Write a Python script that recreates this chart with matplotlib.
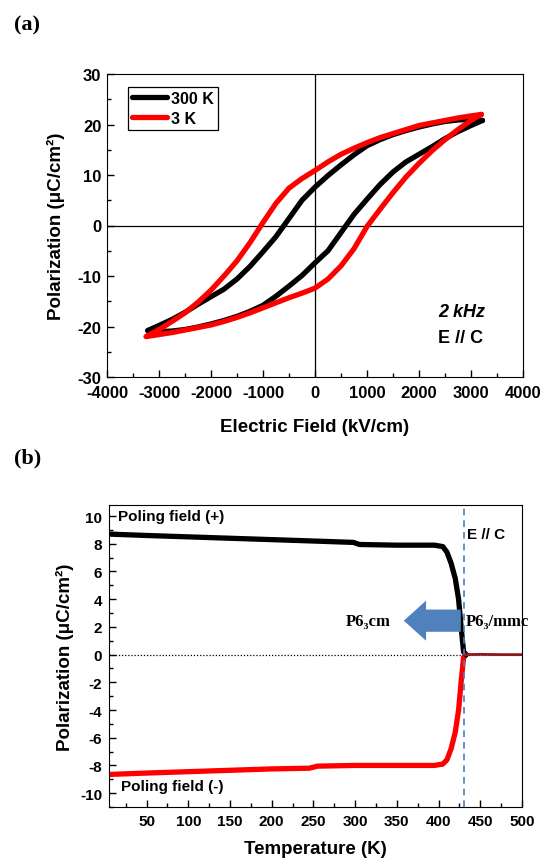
import matplotlib
matplotlib.use("Agg")
import matplotlib.pyplot as plt
from matplotlib.ticker import MultipleLocator

W, H = 542, 862

# (a) hysteresis loops, E in kV/cm, P in uC/cm2 (upper branch: field sweeping down)
black_upper_E = [3220, 3000, 2750, 2500, 2250, 2000, 1750, 1500, 1250, 1000, 750, 500, 250, 0,
                 -250, -500, -750, -1000, -1250, -1500, -1750, -2000, -2250, -2500, -2750, -3000, -3220]
black_upper_P = [20.8, 21.0, 20.9, 20.6, 20.1, 19.5, 18.8, 18.0, 17.0, 15.8, 14.0, 12.0, 9.9, 7.6,
                 5.0, 1.4, -2.2, -5.2, -8.1, -10.6, -12.6, -14.1, -15.6, -17.2, -18.6, -19.8, -20.8]
black_lower_E = [-3220, -3000, -2750, -2500, -2250, -2000, -1750, -1500, -1250, -1000, -750, -500, -250, 0,
                 250, 500, 750, 1000, 1250, 1500, 1750, 2000, 2250, 2500, 2750, 3000, 3220]
black_lower_P = [-20.8, -21.0, -20.9, -20.6, -20.1, -19.5, -18.8, -18.0, -17.0, -15.8, -14.0, -12.0, -9.9, -7.4,
                 -5.0, -1.4, 2.2, 5.2, 8.1, 10.6, 12.6, 14.1, 15.6, 17.2, 18.6, 19.8, 20.8]

red_upper_E = [3200, 3000, 2750, 2500, 2250, 2000, 1750, 1500, 1250, 1000, 750, 500, 250, 0,
               -250, -500, -750, -1000, -1250, -1500, -1750, -2000, -2250, -2500, -2750, -3000, -3250]
red_upper_P = [22.0, 21.7, 21.3, 20.8, 20.3, 19.8, 19.0, 18.2, 17.4, 16.4, 15.3, 14.1, 12.6, 10.9,
               9.3, 7.4, 4.4, 0.6, -3.4, -7.0, -10.0, -12.8, -15.2, -17.3, -19.0, -20.6, -22.0]
red_lower_E = [-3250, -3000, -2750, -2500, -2250, -2000, -1750, -1500, -1250, -1000, -750, -500, -250, 0,
               250, 500, 750, 1000, 1250, 1500, 1750, 2000, 2250, 2500, 2750, 3000, 3200]
red_lower_P = [-22.0, -21.6, -21.2, -20.7, -20.2, -19.7, -19.0, -18.2, -17.3, -16.3, -15.3, -14.3, -13.4, -12.4,
               -10.6, -8.0, -4.6, -0.2, 3.2, 6.5, 9.6, 12.3, 14.8, 17.0, 19.0, 20.8, 22.0]

# (b) polarization vs temperature
temp_pos = [5, 50, 100, 150, 200, 250, 298, 305, 350, 395, 405, 410, 415, 420, 424, 427, 430, 433]
pol_pos = [8.7, 8.6, 8.5, 8.4, 8.3, 8.2, 8.1, 7.95, 7.9, 7.9, 7.8, 7.4, 6.6, 5.5, 4.0, 2.0, 0.2, 0.0]
temp_neg = [5, 50, 100, 150, 200, 245, 255, 300, 350, 395, 405, 410, 415, 420, 424, 427, 430, 433]
pol_neg = [-8.65, -8.55, -8.45, -8.35, -8.25, -8.2, -8.05, -8.0, -8.0, -8.0, -7.9, -7.6, -6.8, -5.6, -4.0, -2.0, -0.2, 0.0]
temp_para = [433, 450, 475, 500]
pol_para = [0.0, 0.02, 0.0, 0.0]
T_transition = 430

SANS = ["Liberation Sans", "DejaVu Sans"]
SERIF = ["Liberation Serif", "DejaVu Serif"]
plt.rcParams["font.family"] = SANS
plt.rcParams["font.weight"] = "bold"
plt.rcParams["axes.unicode_minus"] = False


def frac(x0, y0, x1, y1):
    """Pixel box (left, top, right, bottom) -> figure fraction rect."""
    return [x0 / W, 1 - y1 / H, (x1 - x0) / W, (y1 - y0) / H]


fig = plt.figure(figsize=(W / 100, H / 100), dpi=100)
fig.patch.set_facecolor("white")

# ---------------- panel (a)
ax = fig.add_axes(frac(107, 75, 523, 378))
ax.plot(black_upper_E + black_lower_E, black_upper_P + black_lower_P,
        color="black", lw=3.8, solid_capstyle="round", solid_joinstyle="round", label="300 K")
ax.plot(red_upper_E + red_lower_E, red_upper_P + red_lower_P,
        color="#ff0000", lw=3.8, solid_capstyle="round", solid_joinstyle="round", label="3 K")
ax.axhline(0, color="black", lw=0.9, zorder=0)
ax.axvline(0, color="black", lw=0.9, zorder=0)
ax.set_xlim(-4000, 4000)
ax.set_ylim(-30, 30)
ax.xaxis.set_major_locator(MultipleLocator(1000))
ax.xaxis.set_minor_locator(MultipleLocator(500))
ax.yaxis.set_major_locator(MultipleLocator(10))
ax.yaxis.set_minor_locator(MultipleLocator(5))
ax.tick_params(which="both", direction="in", top=False, right=False, labelsize=12)
ax.tick_params(axis="x", pad=6)
ax.tick_params(axis="y", pad=4)
ax.tick_params(which="major", length=5, width=1)
ax.tick_params(which="minor", length=3, width=1)
ax.set_xlabel("Electric Field (kV/cm)", fontsize=13.5, fontweight="bold", labelpad=13)
ax.set_ylabel("Polarization (μC/cm²)", fontsize=13.5, fontweight="bold", labelpad=9)
leg = ax.legend(loc="upper left", bbox_to_anchor=(0.05, 0.957), borderaxespad=0,
                fontsize=11.5, handlelength=2.2, handletextpad=0.25, borderpad=0.25,
                labelspacing=0.3, fancybox=False, framealpha=1, edgecolor="black")
leg.get_frame().set_linewidth(0.9)
ax.text(2370, -17.1, "2 kHz", fontsize=13, fontweight="bold", style="italic", ha="left", va="center")
ax.text(2370, -22.1, "E // C", fontsize=13, fontweight="bold", ha="left", va="center")

# ---------------- panel (b)
bx = fig.add_axes(frac(109, 506, 522, 808))
bx.axhline(0, color="black", lw=0.9, ls=(0, (1, 1.5)), zorder=1)
bx.plot(temp_neg, pol_neg, color="#ff0000", lw=3.8, solid_joinstyle="round", zorder=2)
bx.plot(temp_pos, pol_pos, color="black", lw=3.8, solid_joinstyle="round", zorder=3)
bx.plot(temp_para, pol_para, color="#8b1a1a", lw=2.0, zorder=3)
bx.axvline(T_transition, color="#4a7ebb", lw=1.2, ls=(0, (4, 3)), zorder=4)
bx.annotate("", xy=(355, 2.45), xytext=(430, 2.45),
            arrowprops=dict(arrowstyle="simple,head_length=1.0,head_width=1.8,tail_width=1.0",
                            color="#4f81bd", lw=0, mutation_scale=16), zorder=5)
bx.set_xlim(5, 500)
bx.set_ylim(-11, 10.8)
bx.xaxis.set_major_locator(MultipleLocator(50))
bx.xaxis.set_minor_locator(MultipleLocator(25))
bx.yaxis.set_major_locator(MultipleLocator(2))
bx.yaxis.set_minor_locator(MultipleLocator(1))
bx.tick_params(which="both", direction="in", top=False, right=False, labelsize=11, pad=5)
bx.tick_params(which="major", length=5, width=1)
bx.tick_params(which="minor", length=3, width=1)
bx.set_xlabel("Temperature (K)", fontsize=13.5, fontweight="bold", labelpad=9)
bx.set_ylabel("Polarization (μC/cm²)", fontsize=13.5, fontweight="bold", labelpad=4)
bx.text(16, 10.0, "Poling field (+)", fontsize=11, fontweight="bold", ha="left", va="center")
bx.text(19, -9.5, "Poling field (-)", fontsize=11, fontweight="bold", ha="left", va="center")
bx.text(434, 8.7, "E // C", fontsize=11, fontweight="bold", ha="left", va="center")
bx.text(433, 2.4, "P6₃/mmc", fontsize=12, fontweight="bold", family=SERIF, ha="left", va="center")
bx.text(343, 2.4, "P6₃cm", fontsize=12, fontweight="bold", family=SERIF, ha="right", va="center")

# panel letters
fig.text(27 / W, 1 - 25 / H, "(a)", fontsize=16, fontweight="bold", family=SERIF, ha="center", va="center")
fig.text(28 / W, 1 - 458 / H, "(b)", fontsize=16, fontweight="bold", family=SERIF, ha="center", va="center")

fig.savefig("out.png", dpi=100, facecolor="white")
